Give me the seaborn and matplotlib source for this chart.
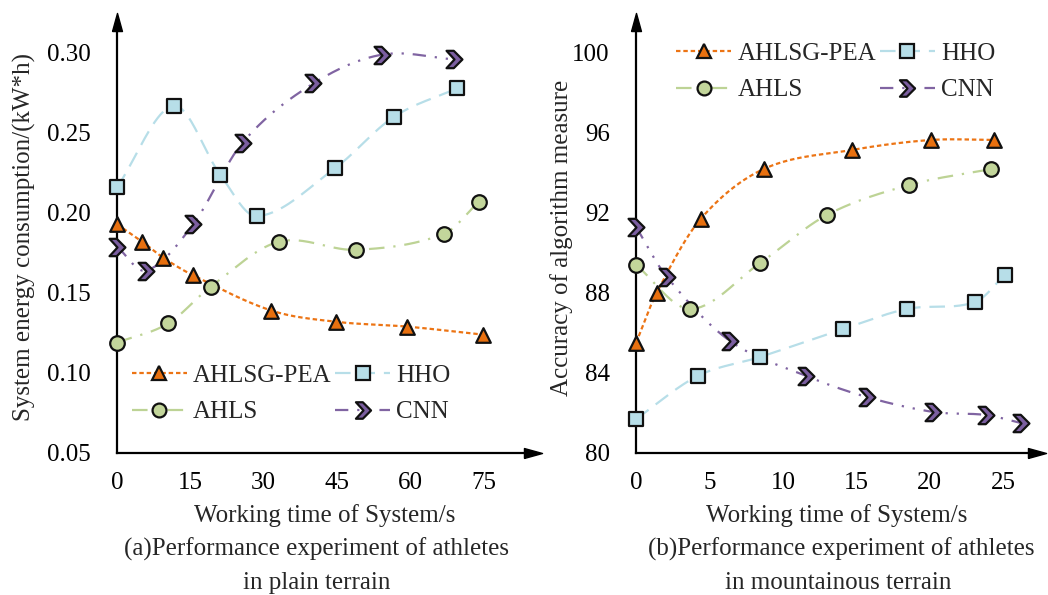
import numpy as np
import matplotlib
matplotlib.use("Agg")
import matplotlib.pyplot as plt
from matplotlib.path import Path
from matplotlib.lines import Line2D
import seaborn as sns

sns.set_theme(style="white")
plt.rcParams['font.family'] = ['Liberation Serif', 'DejaVu Serif']

# ---------------- data ----------------
# (a) plain terrain: energy consumption
pea_a_x = [0, 5.2, 9.5, 15.6, 31.6, 44.8, 59.3, 74.8]
pea_a_y = [0.193, 0.182, 0.172, 0.161, 0.139, 0.132, 0.129, 0.124]
hho_a_x = [0, 11.6, 21.1, 28.6, 44.6, 56.6, 69.6]
hho_a_y = [0.216, 0.267, 0.224, 0.198, 0.228, 0.260, 0.278]
ahls_a_x = [0, 10.5, 19.2, 33.1, 48.9, 66.9, 74.0]
ahls_a_y = [0.119, 0.131, 0.154, 0.182, 0.177, 0.187, 0.207]
cnn_a_x = [0, 6.0, 15.6, 25.7, 40.2, 54.3, 69.0]
cnn_a_y = [0.179, 0.164, 0.193, 0.244, 0.281, 0.299, 0.296]

# (b) mountainous terrain: accuracy
pea_b_x = [0, 1.4, 4.4, 8.7, 14.7, 20.1, 24.4]
pea_b_y = [85.5, 88.0, 91.7, 94.2, 95.15, 95.65, 95.65]
hho_b_x = [0, 4.2, 8.45, 14.1, 18.45, 23.1, 25.1]
hho_b_y = [81.7, 83.85, 84.8, 86.2, 87.2, 87.55, 88.9]
ahls_b_x = [0, 3.7, 8.45, 13.0, 18.6, 24.2]
ahls_b_y = [89.4, 87.2, 89.5, 91.9, 93.4, 94.2]
cnn_b_x = [0, 2.1, 6.4, 11.6, 15.7, 20.25, 23.8, 26.2]
cnn_b_y = [91.3, 88.8, 85.6, 83.85, 82.8, 82.05, 81.9, 81.5]

labels = ['AHLSG-PEA', 'HHO', 'AHLS', 'CNN']

# ---------------- styles ----------------
chevron = Path([(-0.55, 0.6), (-0.05, 0.6), (0.55, 0.0), (-0.05, -0.6),
                (-0.55, -0.6), (0.0, 0.0), (-0.55, 0.6)],
               [Path.MOVETO] + [Path.LINETO] * 5 + [Path.CLOSEPOLY])

styles = {
    'AHLSG-PEA': dict(color='#EC7414', face='#E8700F', marker='^', dash=(2, 1.3), ms=10.5),
    'HHO': dict(color='#B7DEE8', face='#B7DEE8', marker='s', dash=(7, 4), ms=10),
    'AHLS': dict(color='#BDD395', face='#C3D69B', marker='o', dash=(7, 4, 1, 4), ms=10.5),
    'CNN': dict(color='#8064A2', face='#7B5EA0', marker=chevron, dash=(6, 4, 1, 4, 1, 4), ms=12.5),
}


def smooth(x, y, n=40):
    # cubic hermite curve through the read points (line rendering only)
    x = np.asarray(x, float)
    y = np.asarray(y, float)
    m = np.zeros_like(y)
    m[1:-1] = (y[2:] - y[:-2]) / (x[2:] - x[:-2])
    m[0] = (y[1] - y[0]) / (x[1] - x[0])
    m[-1] = (y[-1] - y[-2]) / (x[-1] - x[-2])
    xs, ys = [], []
    for i in range(len(x) - 1):
        h = x[i + 1] - x[i]
        t = np.linspace(0, 1, n)
        h00 = 2 * t**3 - 3 * t**2 + 1
        h10 = t**3 - 2 * t**2 + t
        h01 = -2 * t**3 + 3 * t**2
        h11 = t**3 - t**2
        xs.append(x[i] + t * h)
        ys.append(h00 * y[i] + h10 * h * m[i] + h01 * y[i + 1] + h11 * h * m[i + 1])
    return np.concatenate(xs), np.concatenate(ys)


def draw_series(ax, name, x, y):
    st = styles[name]
    sx, sy = smooth(x, y)
    ax.plot(sx, sy, color=st['color'], lw=1.6, dashes=st['dash'], zorder=2)
    sns.scatterplot(x=x, y=y, ax=ax, marker=st['marker'], s=st['ms'] ** 2,
                    color=st['face'], edgecolor='#111111', linewidth=1.6,
                    zorder=3, legend=False, clip_on=False)


def style_axes(ax, xticks, yticks, yfmt, xlim, ylim, ylabel, ylabel_x):
    ax.set_xlim(*xlim)
    ax.set_ylim(*ylim)
    ax.set_xticks(xticks)
    ax.set_yticks(yticks)
    ax.set_yticklabels([yfmt.format(v) for v in yticks])
    for s in ['top', 'right']:
        ax.spines[s].set_visible(False)
    for s in ['left', 'bottom']:
        ax.spines[s].set_color('black')
        ax.spines[s].set_linewidth(1.6)
    ax.tick_params(axis='x', direction='in', length=10, width=1.6, pad=14,
                   labelsize=18, colors='black')
    ax.tick_params(axis='y', direction='out', length=10, width=1.6, pad=9,
                   labelsize=18, colors='black')
    ax.set_xlabel('Working time of System/s', fontsize=18, labelpad=7)
    ax.set_ylabel(ylabel, fontsize=18)
    ax.yaxis.set_label_coords(ylabel_x, 0.5)
    ax.grid(False)
    # axis arrows
    ax.plot(1, 0, marker=Path([(-1, -0.55), (1, 0), (-1, 0.55), (-1, -0.55)]),
            ms=13, color='black', transform=ax.transAxes, clip_on=False, zorder=5)
    ax.plot(0, 1, marker=Path([(-0.55, -1), (0, 1), (0.55, -1), (-0.55, -1)]),
            ms=13, color='black', transform=ax.transAxes, clip_on=False, zorder=5)


def add_legend(ax, anchor):
    handles = []
    for name in labels:
        st = styles[name]
        handles.append(Line2D([], [], color=st['color'], lw=1.6, dashes=st['dash'],
                              marker=st['marker'], markersize=st['ms'] * 0.95,
                              markerfacecolor=st['face'], markeredgecolor='#111111',
                              markeredgewidth=1.6))
    order = [0, 2, 1, 3]
    ax.legend([handles[i] for i in order], [labels[i] for i in order], ncol=2,
              loc='upper left', bbox_to_anchor=anchor, frameon=False, fontsize=18,
              handlelength=2.2, handletextpad=0.25, columnspacing=0.15,
              labelspacing=0.55, borderaxespad=0, borderpad=0)


fig = plt.figure(figsize=(10.48, 5.95), dpi=100)
ax1 = fig.add_axes([0.1116, 0.2387, 0.397, 0.7244])
ax2 = fig.add_axes([0.6069, 0.2387, 0.3826, 0.7244])

# (a)
draw_series(ax1, 'AHLSG-PEA', pea_a_x, pea_a_y)
draw_series(ax1, 'HHO', hho_a_x, hho_a_y)
draw_series(ax1, 'AHLS', ahls_a_x, ahls_a_y)
draw_series(ax1, 'CNN', cnn_a_x, cnn_a_y)
style_axes(ax1, [0, 15, 30, 45, 60, 75], [0.05, 0.10, 0.15, 0.20, 0.25, 0.30], '{:.2f}',
           (0, 85.1), (0.05, 0.3194), 'System energy consumption/(kW*h)', -0.195)
add_legend(ax1, (0.035, 0.205))

# (b)
draw_series(ax2, 'AHLSG-PEA', pea_b_x, pea_b_y)
draw_series(ax2, 'HHO', hho_b_x, hho_b_y)
draw_series(ax2, 'AHLS', ahls_b_x, ahls_b_y)
draw_series(ax2, 'CNN', cnn_b_x, cnn_b_y)
style_axes(ax2, [0, 5, 10, 15, 20, 25], [80, 84, 88, 92, 96, 100], '{:d}',
           (0, 27.3), (80, 101.55), 'Accuracy of algorithm measure', -0.157)
add_legend(ax2, (0.10, 0.952))

# captions
fig.text(0.302, 1 - 549 / 595, '(a)Performance experiment of athletes',
         ha='center', va='center', fontsize=18)
fig.text(0.302, 1 - 583 / 595, 'in plain terrain', ha='center', va='center', fontsize=18)
fig.text(0.803, 1 - 549 / 595, '(b)Performance experiment of athletes',
         ha='center', va='center', fontsize=18)
fig.text(0.800, 1 - 583 / 595, 'in mountainous terrain', ha='center', va='center', fontsize=18)

fig.savefig('out.png', dpi=100)
